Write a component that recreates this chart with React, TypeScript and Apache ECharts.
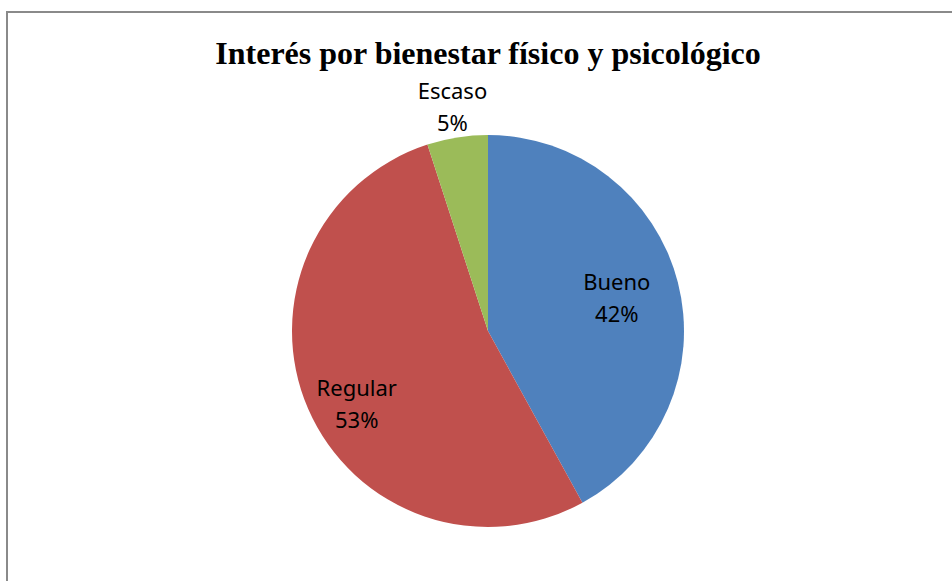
import React, { useEffect, useRef } from "react";
import * as echarts from "echarts";

const categories = ["Bueno", "Regular", "Escaso"];
const values = [42, 53, 5];
const colors = ["#4F81BD", "#C0504D", "#9BBB59"];
const titleText = "Interés por bienestar físico y psicológico";

export default function App() {
  const ref = useRef<HTMLDivElement>(null);
  useEffect(() => {
    document.body.style.margin = "0";
    const chart = echarts.init(ref.current!, null, { renderer: "svg" });
    const cx = 488;
    const cy = 331;
    const R = 196;
    const total = values.reduce((a, b) => a + b, 0);
    const radialFactor = [0.68, 0.765, 1.16];
    const angleShift = [-0.5, -5.5, 0];
    const labelPos = (i: number) => {
      let before = 0;
      for (let k = 0; k < i; k++) before += values[k];
      const mid =
        ((before + values[i] / 2) / total) * Math.PI * 2 +
        (angleShift[i] * Math.PI) / 180;
      const r = R * radialFactor[i];
      return { x: cx + r * Math.sin(mid), y: cy - r * Math.cos(mid) };
    };
    chart.setOption({
      animation: false,
      backgroundColor: "#ffffff",
      title: {
        text: titleText,
        left: 483,
        top: 32,
        textAlign: "center",
        textStyle: {
          fontFamily: "Liberation Serif",
          fontWeight: "bold",
          fontSize: 32,
          color: "#000000",
        },
      },
      graphic: [
        {
          type: "rect",
          shape: { x: 7, y: 12, width: 980, height: 600 },
          style: { fill: "none", stroke: "#8a8a8a", lineWidth: 2 },
          silent: true,
        },
      ],
      series: [
        {
          type: "pie",
          center: [cx, cy],
          radius: [0, R],
          startAngle: 90,
          clockwise: true,
          avoidLabelOverlap: false,
          data: categories.map((name, i) => ({
            name,
            value: values[i],
            itemStyle: { color: colors[i] },
          })),
          label: {
            show: true,
            position: "inside",
            formatter: (p: any) => `${p.name}\n${Math.round(p.percent)}%`,
            fontFamily: "Noto Sans",
            fontSize: 22,
            lineHeight: 32,
            color: "#000000",
            align: "center",
          },
          labelLine: { show: false },
          labelLayout: (params: any) => {
            const p = labelPos(params.dataIndex);
            return { x: p.x, y: p.y, align: "center", verticalAlign: "middle" };
          },
        },
      ],
    });
    return () => chart.dispose();
  }, []);
  return (
    <div
      ref={ref}
      style={{ position: "absolute", left: 0, top: 0, width: 952, height: 581 }}
    />
  );
}
